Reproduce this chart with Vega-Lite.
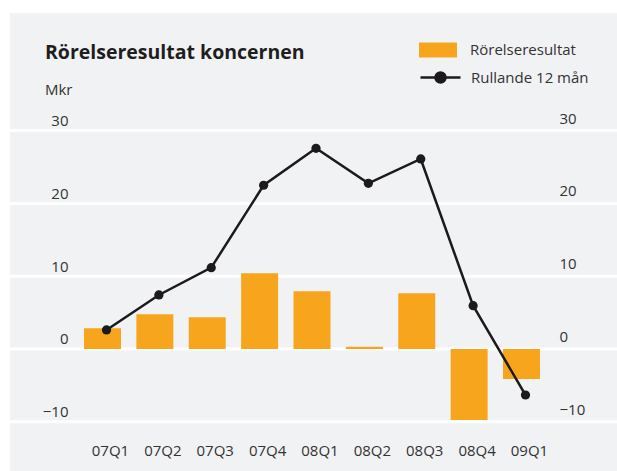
{
  "$schema": "https://vega.github.io/schema/vega-lite/v6.json",
  "width": 607,
  "height": 458,
  "autosize": {"type": "none"},
  "padding": {"left": 10, "top": 13, "right": 0, "bottom": 0},
  "background": "white",
  "title": {
    "text": "Rörelseresultat koncernen",
    "subtitle": "Mkr",
    "anchor": "start",
    "frame": "group",
    "orient": "top",
    "offset": -86,
    "dx": 35,
    "font": "Open Sans",
    "fontSize": 19.5,
    "fontWeight": "bold",
    "color": "#1e1e1e",
    "subtitleFont": "Open Sans",
    "subtitleFontSize": 15,
    "subtitleColor": "#333333",
    "subtitlePadding": 20
  },
  "config": {
    "view": {"fill": "#f1f2f4", "stroke": null},
    "font": "Open Sans",
    "axis": {"labelFont": "Open Sans", "labelFontSize": 15, "labelColor": "#333333"},
    "legend": {"labelFont": "Open Sans", "labelFontSize": 15, "labelColor": "#333333"}
  },
  "datasets": {
    "main": [
      {"q": "07Q1", "bar": 2.84, "roll": 2.61},
      {"q": "07Q2", "bar": 4.77, "roll": 7.42},
      {"q": "07Q3", "bar": 4.35, "roll": 11.17},
      {"q": "07Q4", "bar": 10.4, "roll": 22.49},
      {"q": "08Q1", "bar": 7.93, "roll": 27.57},
      {"q": "08Q2", "bar": 0.3, "roll": 22.76},
      {"q": "08Q3", "bar": 7.65, "roll": 26.1},
      {"q": "08Q4", "bar": -9.77, "roll": 5.95},
      {"q": "09Q1", "bar": -4.13, "roll": -6.32}
    ],
    "grid": [
      {"g": -10}, {"g": 0}, {"g": 10}, {"g": 20}, {"g": 30}
    ]
  },
  "layer": [
    {
      "data": {"name": "grid"},
      "mark": {"type": "rule", "color": "white", "strokeWidth": 3},
      "encoding": {
        "y": {
          "field": "g",
          "type": "quantitative",
          "scale": {"domain": [-16.76, 46.15], "nice": false, "zero": false},
          "axis": {
            "title": null,
            "values": [-10, 0, 10, 20, 30],
            "ticks": false,
            "tickSize": 0,
            "domain": false,
            "grid": false,
            "labelAlign": "right",
            "labelBaseline": "middle",
            "labelPadding": -58,
            "labelOffset": -10
          }
        }
      }
    },
    {
      "data": {"name": "main"},
      "mark": {"type": "bar"},
      "encoding": {
        "x": {
          "field": "q",
          "type": "nominal",
          "sort": null,
          "scale": {"range": [74, 530], "paddingInner": 0.2935, "paddingOuter": 0},
          "axis": {
            "title": null,
            "labelAngle": 0,
            "ticks": false,
            "tickSize": 0,
            "domain": false,
            "grid": false,
            "labelBaseline": "middle",
            "labelPadding": -21,
            "labelOffset": 8
          }
        },
        "y": {
          "field": "bar",
          "type": "quantitative",
          "scale": {"domain": [-16.76, 46.15], "nice": false, "zero": false},
          "axis": null
        },
        "fill": {
          "datum": "Rörelseresultat",
          "scale": {"domain": ["Rörelseresultat"], "range": ["#f7a51d"]},
          "legend": {
            "title": null,
            "orient": "none",
            "legendX": 408,
            "legendY": 17,
            "padding": 0,
            "symbolType": "M-0.95,-0.375H0.95V0.375H-0.95Z",
            "symbolSize": 1600,
            "symbolStrokeWidth": 0,
            "labelOffset": 12
          }
        }
      }
    },
    {
      "data": {"name": "main"},
      "encoding": {
        "x": {"field": "q", "type": "nominal", "sort": null}
      },
      "layer": [
        {
          "mark": {"type": "line", "strokeWidth": 2.5, "xOffset": 4},
          "encoding": {
            "y": {
              "field": "roll",
              "type": "quantitative",
              "scale": {"domain": [-16.76, 46.15], "nice": false, "zero": false},
              "axis": {
                "orient": "right",
                "title": null,
                "values": [-10, 0, 10, 20, 30],
                "ticks": false,
                "tickSize": 0,
                "domain": false,
                "grid": false,
                "labelAlign": "left",
                "labelBaseline": "middle",
                "labelPadding": -58,
                "labelOffset": -12.5
              }
            },
            "stroke": {
              "datum": "Rullande 12 mån",
              "scale": {"domain": ["Rullande 12 mån"], "range": ["#1c1a1b"]},
              "legend": {
                "title": null,
                "orient": "none",
                "legendX": 409,
                "legendY": 43,
                "padding": 0,
                "symbolType": "M-1,0L1,0M0.25,0A0.25,0.25,0,1,1,-0.25,0A0.25,0.25,0,1,1,0.25,0Z",
                "symbolSize": 1600,
                "symbolStrokeWidth": 2.5,
                "symbolFillColor": "#1c1a1b",
                "symbolStrokeColor": "#1c1a1b",
                "labelOffset": 9
              }
            }
          }
        },
        {
          "mark": {"type": "point", "filled": true, "size": 85, "opacity": 1, "color": "#1c1a1b", "xOffset": 4},
          "encoding": {
            "y": {"field": "roll", "type": "quantitative"}
          }
        }
      ]
    }
  ],
  "resolve": {"scale": {"y": "independent"}}
}
